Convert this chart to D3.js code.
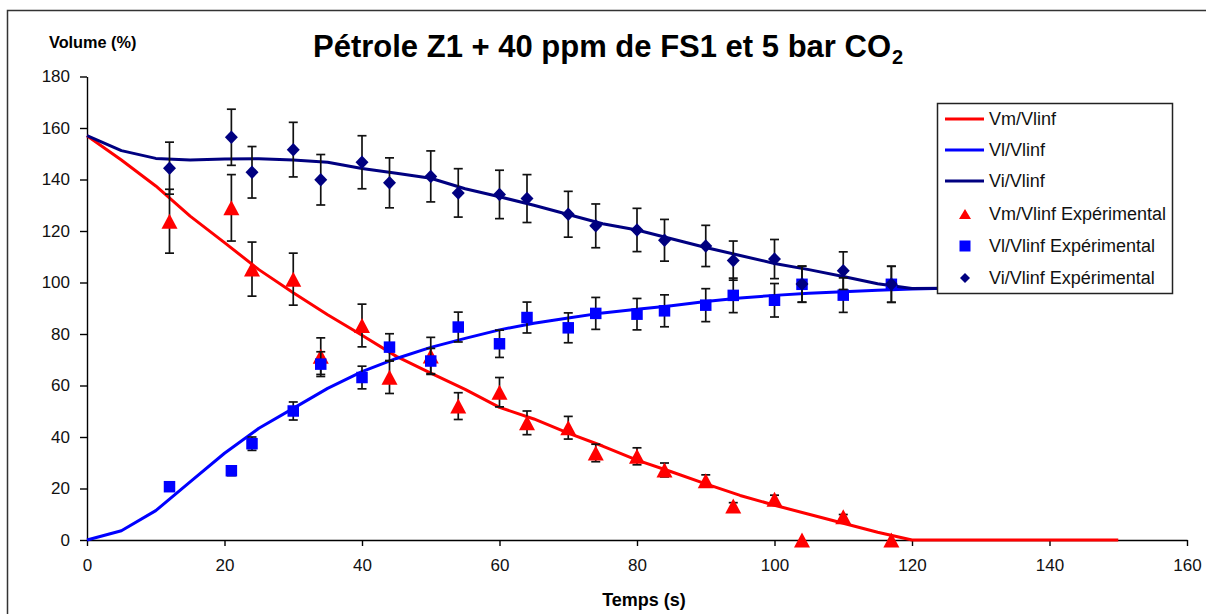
<!DOCTYPE html>
<html>
<head>
<meta charset="utf-8">
<script src="https://cdn.jsdelivr.net/npm/d3@7"></script>
<style>
  html, body { margin: 0; padding: 0; background: #fff; }
  svg { display: block; font-family: "Liberation Sans", Arial, sans-serif; }
</style>
</head>
<body>
<svg id="chart" width="1206" height="614"></svg>
<script>
// ---------- Data ----------
const modelTime = [0,5,10,15,20,25,30,35,40,45,50,55,60,65,70,75,80,85,90,95,100,105,110,115,120,125,130,135,140,145,150];
const vmModel = [157,147.6,137.5,125.8,115.5,105,96,87.5,79.5,71.3,64.8,58.5,51.5,47,41.5,36.5,31,26.5,21.8,17.3,13.5,10,6.5,3,0,0,0,0,0,0,0];
const vlModel = [0,3.6,11.4,22.6,33.7,43.4,51.1,58.9,65.4,70.5,74.8,78.3,81.6,84.2,86.2,88.2,89.6,91,92.6,94,95,95.8,96.4,97,97.5,97.8,98,98.1,98.2,98.3,98.4];
const viModel = [157,151.2,148.2,147.6,148,148.1,147.6,146.7,144.3,142.4,140.5,136.4,133.3,130,126.4,122.8,120.4,117,113.6,110.5,107.4,105,102.3,99.5,97.7,97.8,98,98.1,98.2,98.3,98.4];

const expTime = [12,21,24,30,34,40,44,50,54,60,64,70,74,80,84,90,94,100,104,110,117];
const vmExp = [123.8,129,105.2,101.3,71.4,83.3,63.2,71.5,52,57.4,45.5,43.6,33.8,32.5,27.2,23,13.2,15.8,0,9,0];
const vmErr = [12.4,12.9,10.5,10.1,7.1,8.3,6.3,7.2,5.2,5.7,4.6,4.4,3.4,3.3,2.7,2.3,1.3,1.6,0,0.9,0];
const vlExp = [20.7,26.9,37.4,50.1,68.3,63.1,74.9,69.5,82.7,76.2,86.4,82.4,88.0,87.7,89.0,91.2,95.0,93.1,99.3,95.1,99.3];
const vlErr = [1.4,1.9,2.6,3.5,4.8,4.4,5.2,4.9,5.8,5.3,6.0,5.8,6.2,6.1,6.2,6.4,6.7,6.5,7.0,6.7,7.0];
const viExp = [144.4,156.4,142.8,151.6,139.9,146.7,138.7,141.2,134.8,134.2,132.6,126.5,122.0,120.4,116.4,114.2,108.5,109.1,99.4,104.6,99.3];
const viErr = [10.1,10.9,10.0,10.6,9.8,10.3,9.7,9.9,9.4,9.4,9.3,8.9,8.5,8.4,8.1,8.0,7.6,7.6,7.0,7.3,7.0];

const xTicks = [0,20,40,60,80,100,120,140,160];
const yTicks = [0,20,40,60,80,100,120,140,160,180];
const legendLabels = ["Vm/Vlinf","Vl/Vlinf","Vi/Vlinf","Vm/Vlinf Expérimental","Vl/Vlinf Expérimental","Vi/Vlinf Expérimental"];
const titleMain = "Pétrole Z1 + 40 ppm de FS1 et 5 bar CO";
const titleSub = "2";
const yTitle = "Volume (%)";
const xTitle = "Temps (s)";

// ---------- Layout ----------
const svg = d3.select("#chart");
const plot = {left: 87, right: 1187, top: 76.5, bottom: 540};
const x = d3.scaleLinear().domain([0,160]).range([plot.left, plot.right]);
const y = d3.scaleLinear().domain([0,180]).range([plot.bottom, plot.top]);

const red = "#ff0000", blue = "#0000ff", navy = "#000080";

// outer chart frame (extends past right and bottom edges)
svg.append("rect").attr("x",7.5).attr("y",10.5).attr("width",1210).attr("height",620)
  .attr("fill","none").attr("stroke","#333").attr("stroke-width",1.5);

// title
const t = svg.append("text").attr("x",313).attr("y",57)
  .attr("font-size",31).attr("font-weight","bold").attr("fill","#000");
t.append("tspan").text(titleMain);
t.append("tspan").attr("font-size",20).attr("dy",7).attr("dx",1).text(titleSub);

// axis titles
svg.append("text").attr("x",49).attr("y",48).attr("font-size",16.3).attr("font-weight","bold").text(yTitle);
svg.append("text").attr("x",644).attr("y",606).attr("text-anchor","middle").attr("font-size",18).attr("font-weight","bold").text(xTitle);

// axes
const yAxis = svg.append("g").attr("transform",`translate(${plot.left},0)`)
  .call(d3.axisLeft(y).tickValues(yTicks).tickSize(7).tickSizeOuter(0).tickPadding(10));
const xAxis = svg.append("g").attr("transform",`translate(0,${plot.bottom})`)
  .call(d3.axisBottom(x).tickValues(xTicks).tickSize(6).tickSizeOuter(0).tickPadding(13));
[xAxis, yAxis].forEach(g => {
  g.selectAll("path,line").attr("stroke","#000").attr("stroke-width",1.4);
  g.selectAll("text").attr("font-size",17).attr("fill","#111").attr("font-family",'"Liberation Sans", Arial, sans-serif');
});

// model lines
const line = d3.line().x((d,i)=>x(modelTime[i])).y(d=>y(d));
[[vmModel,red],[vlModel,blue],[viModel,navy]].forEach(([vals,col]) => {
  svg.append("path").datum(vals).attr("d",line).attr("fill","none")
    .attr("stroke",col).attr("stroke-width",3).attr("stroke-linejoin","round");
});

// marker shapes
const shapes = {
  tri: (w,h) => `M0,${-h/2}L${w/2},${h/2}L${-w/2},${h/2}Z`,
  sq: (s) => `M${-s/2},${-s/2}H${s/2}V${s/2}H${-s/2}Z`,
  dia: (w,h) => `M0,${-h/2}L${w/2},0L0,${h/2}L${-w/2},0Z`
};

const series = [
  {vals: vmExp, err: vmErr, col: red, shape: shapes.tri(16,15)},
  {vals: vlExp, err: vlErr, col: blue, shape: shapes.sq(11.5)},
  {vals: viExp, err: viErr, col: navy, shape: shapes.dia(13,13.5)}
];

series.forEach(s => {
  const g = svg.append("g");
  const eb = g.selectAll("g.eb").data(s.vals.map((v,i)=>({t:expTime[i], v, e:s.err[i]})))
    .enter().append("g").filter(d=>d.e>0);
  eb.append("line").attr("x1",d=>x(d.t)).attr("x2",d=>x(d.t))
    .attr("y1",d=>y(d.v+d.e)).attr("y2",d=>y(d.v-d.e));
  eb.append("line").attr("x1",d=>x(d.t)-4.5).attr("x2",d=>x(d.t)+4.5)
    .attr("y1",d=>y(d.v+d.e)).attr("y2",d=>y(d.v+d.e));
  eb.append("line").attr("x1",d=>x(d.t)-4.5).attr("x2",d=>x(d.t)+4.5)
    .attr("y1",d=>y(d.v-d.e)).attr("y2",d=>y(d.v-d.e));
  eb.selectAll("line").attr("stroke","#111").attr("stroke-width",1.7);
  g.selectAll("path.m").data(s.vals).enter().append("path")
    .attr("d",s.shape).attr("fill",s.col)
    .attr("transform",(d,i)=>`translate(${x(expTime[i])},${y(d)})`);
});

// legend
const leg = svg.append("g");
leg.append("rect").attr("x",937.5).attr("y",103.5).attr("width",235).attr("height",190)
  .attr("fill","#fff").attr("stroke","#222").attr("stroke-width",1.5);
const legY = [119,150,181,214,246,278];
const legCols = [red,blue,navy,red,blue,navy];
const legShapes = [null,null,null,shapes.tri(12,10),shapes.sq(11),shapes.dia(10,10)];
legendLabels.forEach((lab,i) => {
  if (i < 3) {
    leg.append("line").attr("x1",945).attr("x2",984).attr("y1",legY[i]).attr("y2",legY[i])
      .attr("stroke",legCols[i]).attr("stroke-width",3);
  } else {
    leg.append("path").attr("d",legShapes[i]).attr("fill",legCols[i])
      .attr("transform",`translate(965,${legY[i]})`);
  }
  leg.append("text").attr("x",989).attr("y",legY[i]).attr("dy","0.35em")
    .attr("font-size",18).attr("fill","#111").text(lab);
});
</script>
</body>
</html>
